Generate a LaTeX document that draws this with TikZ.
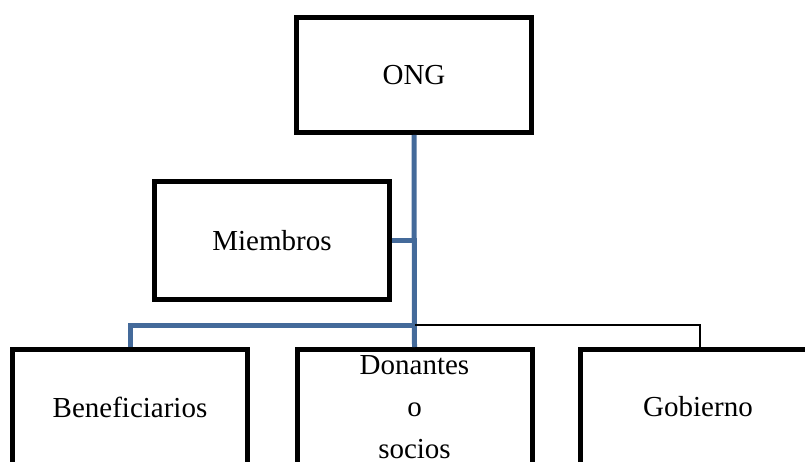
\documentclass[tikz,border=0pt]{standalone}
\usepackage{fontspec}
\setmainfont{Liberation Serif}
\definecolor{linkblue}{RGB}{68,106,154}
\begin{document}
\begin{tikzpicture}[x=1pt,y=-1pt,
		caja/.style={draw,line width=5pt,minimum width=235pt,minimum height=115pt,
			align=center,font=\fontsize{29}{42}\selectfont},
		enlace/.style={draw=linkblue,line width=5pt}]
		\useasboundingbox (0,0) rectangle (805,462);
		\node[caja] (ong) at (414,75) {ONG};
		\node[caja,minimum height=118pt] (miembros) at (272,240.5) {Miembros};
		\node[caja] (benef) at (130,407) {Beneficiarios};
		\node[caja] (donantes) at (414.5,407) {Donantes\\o\\socios};
		\node[caja] (gobierno) at (698,407) {Gobierno};
		\coordinate (cruce) at (414.5,325);
		\draw[enlace] (ong.south) -- (donantes.north);
		\draw[enlace] (miembros.east) -- (miembros.east -| cruce);
		\draw[enlace] (benef.north) |- (cruce);
		\draw[line width=1.5pt] (cruce) -| ([xshift=2pt]gobierno.north);
	\end{tikzpicture}
\end{document}
